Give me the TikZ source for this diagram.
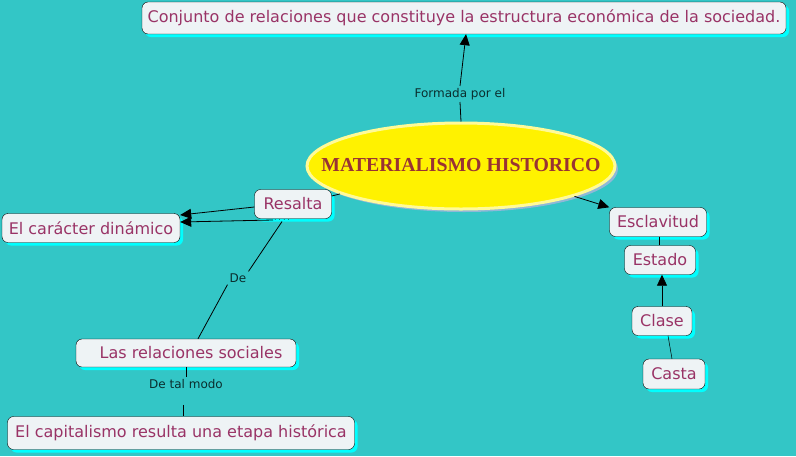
\documentclass[tikz,border=0pt]{standalone}
\usepackage{fontspec}
\setmainfont{DejaVu Sans}
\newfontfamily\titlefont{Liberation Serif}
\usetikzlibrary{shapes.geometric,arrows.meta,shadows}
\definecolor{bg}{HTML}{33C6C6}
\definecolor{boxfill}{HTML}{EEF3F5}
\definecolor{txt}{HTML}{993366}
\definecolor{lbl}{HTML}{0A2E2E}
\definecolor{ttl}{HTML}{993333}
\definecolor{shadowcyan}{HTML}{00FFFF}
\definecolor{ellshadow}{HTML}{8FB8D8}
\tikzset{
  concept/.style={draw=black, rounded corners=6pt, fill=boxfill, text=txt,
    font=\fontsize{16}{18}\selectfont, inner sep=0pt,
    drop shadow={fill=shadowcyan, opacity=1, shadow xshift=3pt, shadow yshift=-3pt}},
  linklabel/.style={text=lbl, font=\fontsize{12}{14}\selectfont, inner sep=2pt},
  conn/.style={draw=black, line width=0.8pt},
  arr/.style={conn, -{Triangle[length=11pt,width=10pt]}},
}
\begin{document}
\begin{tikzpicture}[x=1pt,y=-1pt]
\fill[bg] (0,0) rectangle (796,456);
\useasboundingbox (0,0) rectangle (796,456);

% main ellipse
\node[ellipse, fill=yellow, draw=yellow!40, line width=3pt, minimum width=308pt, minimum height=86pt, inner sep=0pt,
  drop shadow={fill=ellshadow, opacity=1, shadow xshift=3pt, shadow yshift=-3pt}] (main) at (461,166) {};
\node[text=ttl, font=\titlefont\bfseries\fontsize{19.8}{22}\selectfont, inner sep=0pt] (title) at (461,165) {MATERIALISMO HISTORICO};

% concepts
\node[concept, minimum width=644pt, minimum height=32pt] (top) at (464,18) {Conjunto de relaciones que constituye la estructura económica de la sociedad.};
\node[concept, minimum width=77pt, minimum height=29pt] (resalta) at (293,204) {Resalta};
\node[concept, minimum width=178pt, minimum height=29pt] (caracter) at (91,228) {El carácter dinámico};
\node[concept, minimum width=220pt, minimum height=28pt] (relaciones) at (186,353) {\hspace{10pt}Las relaciones sociales};
\node[concept, minimum width=347pt, minimum height=33pt] (capital) at (181,433) {El capitalismo resulta una etapa histórica};
\node[concept, minimum width=97pt, minimum height=29pt] (esclav) at (658,222) {Esclavitud};
\node[concept, minimum width=71pt, minimum height=29pt] (estado) at (660,260) {Estado};
\node[concept, minimum width=60pt, minimum height=29pt] (clase) at (662,321) {Clase};
\node[concept, minimum width=62pt, minimum height=30pt] (casta) at (674,374) {Casta};

% link labels
\node[linklabel] (formada) at (460,94) {Formada por el};
\node[linklabel] (de) at (238,278) {De};
\node[linklabel] (detal) at (186,384) {De tal modo};
\node[text=black, font=\fontsize{6}{6}\selectfont, inner sep=1pt] (dots) at (282,220) {. . . .};

% connectors
\draw[conn] (main.north) -- (formada.south);
\draw[arr] (formada.north) -- ([xshift=2pt]top.south);
\draw[conn] ([yshift=8pt]resalta.east) -- (main.193);
\draw[arr] ([yshift=-3pt]resalta.west) -- ([yshift=13pt]caracter.east);
\draw[arr] (dots.west) -- ([yshift=6pt]caracter.east);
\draw[conn] (dots.south) -- (de.north east);
\draw[conn] (de.south west) -- ([xshift=12pt]relaciones.north);
\draw[conn] (relaciones.south) -- (detal.north);
\draw[conn, shorten <=14pt] ([xshift=-3pt]detal.south) -- ([xshift=2pt]capital.north);
\draw[arr] (main.-15.5) -- (esclav.north west);
\draw[conn] ([xshift=1pt]esclav.south) -- ([xshift=-1pt]estado.north);
\draw[arr] (clase.north) -- ([xshift=2pt]estado.south);
\draw[conn, line width=0.5pt] ([xshift=6pt]clase.south) -- ([xshift=-2pt]casta.north);
\end{tikzpicture}
\end{document}
